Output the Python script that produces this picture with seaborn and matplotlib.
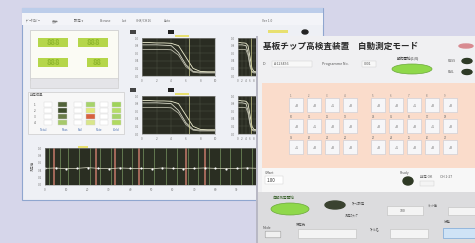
import matplotlib
matplotlib.use("Agg")
import matplotlib.pyplot as plt
from matplotlib.patches import Rectangle, FancyBboxPatch, Ellipse
import seaborn as sns
import pandas as pd

# sweep curves on the two small scope screens (normalised)
sweep_x = [0, 1, 2, 3, 4, 5, 6, 7, 8, 9, 10]
sweep_a = [0.82, 0.82, 0.82, 0.81, 0.80, 0.62, 0.30, 0.12, 0.10, 0.10, 0.10]
sweep_b = [0.70, 0.70, 0.70, 0.70, 0.69, 0.55, 0.25, 0.10, 0.08, 0.08, 0.08]
sweep_c = [0.88, 0.88, 0.87, 0.87, 0.86, 0.80, 0.50, 0.20, 0.12, 0.11, 0.11]

# long trend screen at the bottom
trend_x = [0, 5, 10, 15, 20, 25, 30, 35, 40, 45, 50, 55, 60, 65, 70, 75, 80, 85, 90, 95, 100]
trend_y = [0.45, 0.46, 0.44, 0.45, 0.47, 0.45, 0.44, 0.46, 0.45, 0.45, 0.44,
           0.46, 0.45, 0.44, 0.45, 0.46, 0.45, 0.44, 0.45, 0.46, 0.45]
spike_green = [2, 7, 11, 16, 21, 26, 31, 36, 41, 46, 51, 57, 62, 67, 72, 77, 82, 87, 92, 97]
spike_red = [4, 24, 33, 44, 66, 75]

# front panel
panel_title = "基板チップ高検査装置　自動測定モード"
chip_rows = 3
chip_cols_left = 4
chip_cols_right = 5
chip_values = [["+0", "+0", "+1", "+0", "+0", "+0", "+1", "+0", "+0"],
               ["+0", "+1", "+0", "+0", "+0", "+0", "+0", "+1", "+0"],
               ["+1", "+0", "+0", "+0", "+0", "+1", "+0", "+0", "+0"]]

W, H = 475, 243
plt.rcParams["font.family"] = ["Noto Sans CJK JP", "DejaVu Sans"]

fig = plt.figure(figsize=(W / 100, H / 100), dpi=100)
fig.patch.set_facecolor("#d6d6ea")


def px_axes(x, y, w, h):
    return fig.add_axes([x / W, 1 - (y + h) / H, w / W, h / H])


def rect(ax, x, y, w, h, fc, ec="none", lw=0.5, z=1):
    ax.add_patch(Rectangle((x, y), w, h, facecolor=fc, edgecolor=ec, linewidth=lw, zorder=z))


def txt(ax, x, y, s, size=2.6, color="#555555", **kw):
    ax.text(x, y, s, fontsize=size, color=color, va="center", **kw)


# ---------------- back window ----------------
back = fig.add_axes([0, 0, 1, 1])
back.set_xlim(0, W)
back.set_ylim(H, 0)
back.axis("off")

rect(back, 22, 8, 301, 192, "#eef0f5", ec="#8fa6cf", lw=0.8)
rect(back, 22, 8, 301, 5, "#bccdea")
rect(back, 22, 13, 301, 12, "#f3f4f8")
for xx, s in [(26, "ﾃﾞｰﾀ ﾛｶﾞｰ"), (52, "表示"), (74, "設定 ▾"), (100, "Browse"), (122, "Lot"),
              (136, "CH8/CH16"), (164, "Auto")]:
    txt(back, xx, 21, s, size=2.4, color="#666666")
txt(back, 262, 21, "Ver 1.0", size=2.4, color="#666666")
back.add_patch(Ellipse((305, 32), 6, 4, color="#222222"))
rect(back, 268, 30, 20, 3, "#e8e070")

# LED digit panel
rect(back, 30, 30, 88, 50, "#fbfbf4", ec="#c8c8c8")
rect(back, 30, 78, 88, 10, "#e4e4e8", ec="#cfcfcf")
for (x0, y0, w0) in [(38, 38, 30), (78, 38, 30), (38, 58, 30), (87, 58, 21)]:
    rect(back, x0, y0, w0, 9, "#b5d64a", z=2)
    back.text(x0 + w0 / 2, y0 + 4.7, "888" if w0 > 25 else "88", fontsize=5.5,
              color="#8db52c", ha="center", va="center", fontweight="bold", zorder=3)

# result table
rect(back, 28, 92, 96, 42, "#f7f7f7", ec="#cccccc")
txt(back, 30, 95, "判定結果", size=2.4)
table_colors = [["#52633a", "#a6d36a", "#9fd35a"],
                ["#3e4d2c", "#e0e87a", "#b6dd6a"],
                ["#6b7d4a", "#d8603e", "#a6d36a"],
                ["#a7c96a", "#d9e68a", "#b1da60"]]
for r, row in enumerate(table_colors):
    yy = 102 + r * 6
    txt(back, 34, yy + 2.5, f"{r + 1}", size=2.2)
    for c, col in enumerate(row):
        rect(back, [58, 86, 112][c], yy, 9, 5, col, ec="#d0d0d0", lw=0.3, z=2)
    for xx in (44, 74, 100):
        rect(back, xx, yy, 8, 5, "#ffffff", ec="#d6d6d6", lw=0.3, z=2)
for xx, s in [(40, "Total"), (62, "Pass"), (78, "Fail"), (96, "Rate"), (112, "Yield")]:
    txt(back, xx, 130, s, size=2.2, color="#4a6fb0")


def scope(x, y, w, h):
    a = px_axes(x, y, w, h)
    a.set_facecolor("#2a2c22")
    df = pd.DataFrame({"x": sweep_x * 3, "y": sweep_a + sweep_b + sweep_c,
                       "s": ["a"] * 11 + ["b"] * 11 + ["c"] * 11})
    sns.lineplot(data=df, x="x", y="y", hue="s", palette=["#d8d8c8", "#b8b8a8", "#eeeed0"],
                 linewidth=0.6, legend=False, ax=a)
    a.axvline(6.5, color="#cfcf90", lw=0.5)
    a.set_xlim(0, 10)
    a.set_ylim(0, 1)
    a.grid(True, color="#55584a", lw=0.3)
    a.set_xticks([0, 2, 4, 6, 8, 10])
    a.set_yticks([0, 0.2, 0.4, 0.6, 0.8, 1.0])
    a.tick_params(labelsize=2.2, colors="#777777", length=1, width=0.3, pad=1)
    a.set_xlabel("")
    a.set_ylabel("")
    for sp in a.spines.values():
        sp.set_color("#999999")
        sp.set_linewidth(0.4)
    return a


sns.set_style("white")
plt.rcParams["font.family"] = ["Noto Sans CJK JP", "DejaVu Sans"]
for y0 in (38, 96):
    rect(back, 130, y0 - 8, 6, 4, "#444444")
    rect(back, 168, y0 - 8, 6, 4, "#222222")
    rect(back, 175, y0 - 3, 14, 2, "#e8e070", z=3)
    scope(142, y0, 73, 38)
    scope(238, y0, 20, 38)

# bottom trend
tr = px_axes(45, 148, 213, 37)
tr.set_facecolor("#2a2e22")
for xx in spike_green:
    tr.axvline(xx, color="#6f8a5a", lw=0.7, alpha=0.8)
for xx in spike_red:
    tr.axvline(xx, color="#c87a6a", lw=1.2, alpha=0.9)
sns.lineplot(x=trend_x, y=trend_y, color="#dcdcc8", lw=0.5, marker="o", markersize=0.8, ax=tr)
tr.set_xlim(0, 100)
tr.set_ylim(0, 1)
tr.set_xticks(list(range(0, 101, 10)))
tr.set_yticks([0, 0.2, 0.4, 0.6, 0.8, 1.0])
tr.tick_params(labelsize=2.2, colors="#777777", length=1, width=0.3, pad=1)
for sp in tr.spines.values():
    sp.set_color("#999999")
    sp.set_linewidth(0.4)
back.text(31, 166, "測定値", fontsize=2.4, color="#666666", rotation=90, va="center")
rect(back, 78, 146, 10, 2, "#e8e070", z=3)

# ---------------- front window ----------------
front = fig.add_axes([0, 0, 1, 1])
front.set_xlim(0, W)
front.set_ylim(H, 0)
front.axis("off")
front.patch.set_alpha(0)

rect(front, 256, 36, 220, 208, "#b8b8c4")
rect(front, 258, 36, 218, 208, "#f0f0f2")
front.text(263, 46, panel_title, fontsize=6.2, color="#2a2a2a", va="center", fontweight="bold")
front.add_patch(Ellipse((466, 46), 14, 4, color="#d88a90"))
txt(front, 263, 64, "ID", size=2.6)
rect(front, 272, 61, 40, 6, "#f8f8f8", ec="#cccccc", lw=0.3)
txt(front, 274, 64, "A-123456", size=2.6)
txt(front, 322, 64, "Programme No.", size=2.6)
rect(front, 362, 61, 14, 6, "#f8f8f8", ec="#cccccc", lw=0.3)
txt(front, 364, 64, "0001", size=2.6)
txt(front, 397, 59, "動作開始(1/0)", size=2.6, color="#333333")
front.add_patch(Ellipse((412, 69), 40, 10, facecolor="#8fd84a", edgecolor="#6aa838", lw=0.5))
for yy, s in [(61, "PASS"), (72, "FAIL")]:
    txt(front, 448, yy, s, size=2.4)
    front.add_patch(Ellipse((467, yy), 10, 5, color="#2e3a26"))

# chip array
rect(front, 262, 83, 214, 85, "#fadccb")
for r in range(chip_rows):
    yy = 99 + r * 21
    for c in range(chip_cols_left + chip_cols_right):
        xx = 290 + c * 18 + (10 if c >= chip_cols_left else 0)
        txt(front, xx, yy - 3, f"{r * 9 + c + 1}", size=2.0, color="#777777")
        front.add_patch(FancyBboxPatch((xx, yy), 13, 13, boxstyle="round,pad=0.6",
                                       facecolor="#f6f6f8", edgecolor="#c8c8d0", lw=0.4))
        front.text(xx + 6.5, yy + 6.5, chip_values[r][c], fontsize=2.6, color="#555555",
                   ha="center", va="center")

# setting strip
rect(front, 262, 168, 214, 24, "#f7f7f7")
txt(front, 265, 173, "Offset", size=2.4)
rect(front, 265, 176, 18, 8, "#ffffff", ec="#cccccc", lw=0.3)
txt(front, 267, 180, "1.00", size=3.2, color="#333333")
txt(front, 400, 173, "Ready", size=2.4)
front.add_patch(Ellipse((408, 181), 10, 8, color="#2f3a25"))
txt(front, 420, 177, "判定 OK", size=2.4)
txt(front, 440, 177, "CH 1-27", size=2.4)
rect(front, 420, 181, 14, 5, "#f4f4f4", ec="#cccccc", lw=0.3)

# bottom control strip
rect(front, 258, 192, 218, 52, "#dcdcde")
txt(front, 272, 198, "自動測定開始", size=2.6, color="#2f5a20")
front.add_patch(Ellipse((290, 209), 38, 12, facecolor="#8fd84a", edgecolor="#6aa838", lw=0.5))
front.add_patch(Ellipse((335, 205), 20, 8, color="#3a4230"))
txt(front, 352, 204, "ｱﾗｰﾑ設定", size=2.4)
txt(front, 345, 216, "測定ｽﾃｯﾌﾟ", size=2.4)
rect(front, 387, 206, 36, 9, "#f4f4f4", ec="#bdbdbd", lw=0.4)
txt(front, 400, 210.5, "100", size=2.6)
txt(front, 428, 206, "ﾘﾐｯﾄ値", size=2.4)
rect(front, 448, 207, 28, 8, "#f4f4f4", ec="#bdbdbd", lw=0.4)
txt(front, 263, 228, "Mode", size=2.4)
front.add_patch(FancyBboxPatch((266, 232), 14, 5, boxstyle="round,pad=0.8",
                               facecolor="#f0f0f0", edgecolor="#999999", lw=0.4))
txt(front, 296, 225, "保存先", size=2.4)
rect(front, 298, 229, 58, 9, "#f4f4f4", ec="#bdbdbd", lw=0.4)
txt(front, 370, 229, "ﾌｧｲﾙ名", size=2.4)
rect(front, 390, 229, 38, 9, "#f4f4f4", ec="#bdbdbd", lw=0.4)
txt(front, 444, 222, "状態", size=2.4)
rect(front, 443, 228, 33, 10, "#cfe3f6", ec="#7aa7d8", lw=0.5)

fig.savefig("out.png", dpi=100)
